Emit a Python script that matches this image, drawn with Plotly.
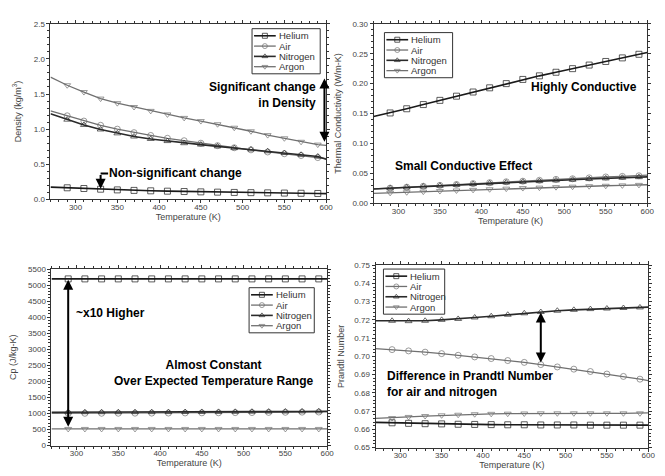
import plotly.graph_objects as go

# ---------------- data ----------------
temps = [270, 290, 310, 330, 350, 370, 390, 410, 430, 450, 470, 490, 510, 530, 550, 570, 590, 600]
gases = ["Helium", "Air", "Nitrogen", "Argon"]

density_helium = [0.175, 0.165, 0.155, 0.145, 0.135, 0.128, 0.122, 0.117, 0.112, 0.107, 0.103, 0.099, 0.096, 0.093, 0.090, 0.087, 0.084, 0.082]
density_air = [1.26, 1.19, 1.115, 1.055, 1.0, 0.95, 0.91, 0.87, 0.835, 0.80, 0.765, 0.735, 0.705, 0.675, 0.65, 0.625, 0.595, 0.58]
density_nitrogen = [1.22, 1.135, 1.06, 0.995, 0.94, 0.895, 0.86, 0.83, 0.80, 0.78, 0.755, 0.73, 0.71, 0.685, 0.66, 0.635, 0.61, 0.57]
density_argon = [1.74, 1.625, 1.528, 1.435, 1.37, 1.315, 1.26, 1.21, 1.16, 1.115, 1.07, 1.02, 0.97, 0.915, 0.87, 0.82, 0.78, 0.77]

cond_helium = [0.145, 0.151, 0.158, 0.165, 0.172, 0.179, 0.186, 0.193, 0.200, 0.207, 0.213, 0.219, 0.225, 0.231, 0.237, 0.243, 0.249, 0.252]
cond_air = [0.024, 0.0255, 0.027, 0.0285, 0.030, 0.0315, 0.033, 0.0345, 0.036, 0.037, 0.0385, 0.040, 0.041, 0.0425, 0.044, 0.045, 0.046, 0.047]
cond_nitrogen = [0.0238, 0.0252, 0.0266, 0.028, 0.0294, 0.0308, 0.0321, 0.0334, 0.0347, 0.0359, 0.0371, 0.0383, 0.0394, 0.0405, 0.0416, 0.0427, 0.0437, 0.0442]
cond_argon = [0.0165, 0.0175, 0.0185, 0.0195, 0.0205, 0.0215, 0.0225, 0.0235, 0.0245, 0.0255, 0.0262, 0.027, 0.0278, 0.0286, 0.0293, 0.030, 0.0308, 0.031]

cp_helium = [5193] * 18
cp_air = [1005, 1006, 1007, 1008, 1009, 1011, 1013, 1015, 1018, 1021, 1024, 1028, 1031, 1035, 1039, 1043, 1047, 1049]
cp_nitrogen = [1040, 1040, 1041, 1041, 1042, 1043, 1044, 1045, 1047, 1049, 1051, 1053, 1056, 1059, 1062, 1065, 1068, 1070]
cp_argon = [520] * 18

pr_helium = [0.6638, 0.6636, 0.6633, 0.6631, 0.6630, 0.6628, 0.6627, 0.6626, 0.6625, 0.6625, 0.6624, 0.6624, 0.6624, 0.6623, 0.6623, 0.6623, 0.6623, 0.6623]
pr_air = [0.7042, 0.7037, 0.7030, 0.7023, 0.7015, 0.7006, 0.6997, 0.6988, 0.6977, 0.6967, 0.6955, 0.6942, 0.6930, 0.6917, 0.6903, 0.6890, 0.6875, 0.6867]
pr_nitrogen = [0.7195, 0.7195, 0.7193, 0.7195, 0.7200, 0.7205, 0.7213, 0.7220, 0.7228, 0.7236, 0.7243, 0.7250, 0.7255, 0.7259, 0.7262, 0.7265, 0.7268, 0.7270]
pr_argon = [0.6660, 0.6662, 0.6668, 0.6673, 0.6677, 0.6680, 0.6683, 0.6685, 0.6686, 0.6687, 0.6688, 0.6688, 0.6688, 0.6688, 0.6688, 0.6688, 0.6688, 0.6690]

panels = [
    [density_helium, density_air, density_nitrogen, density_argon],
    [cond_helium, cond_air, cond_nitrogen, cond_argon],
    [cp_helium, cp_air, cp_nitrogen, cp_argon],
    [pr_helium, pr_air, pr_nitrogen, pr_argon],
]

# ---------------- style ----------------
FONT = "Liberation Sans, Arial, sans-serif"
W, H = 665, 476
symbols = ["square-open", "circle-open", "triangle-up-open", "triangle-down-open"]
colors = ["#1a1a1a", "#707070", "#2a2a2a", "#707070"]
widths = [1.6, 1.3, 1.6, 1.3]
msize = [0] + [6] * 16 + [0]

fig = go.Figure()

axes_ids = [("x", "y"), ("x2", "y2"), ("x3", "y3"), ("x4", "y4")]
for p, (data, (xa, ya)) in enumerate(zip(panels, axes_ids)):
    for g, (name, vals) in enumerate(zip(gases, data)):
        fig.add_trace(go.Scatter(
            x=temps, y=vals, name=name, mode="lines+markers",
            xaxis=xa, yaxis=ya, showlegend=False,
            line=dict(color=colors[g], width=widths[g]),
            marker=dict(symbol=symbols[g], size=msize, color=colors[g],
                        line=dict(width=1.0, color=colors[g])),
        ))

def px_dom_x(a, b):
    return [a / W, b / W]

def px_dom_y(top, bottom):
    return [1 - bottom / H, 1 - top / H]

TITLE_FONT = dict(family=FONT, size=9, color="#444")
common_axis = dict(
    showline=True, linecolor="#333", linewidth=1, mirror="allticks",
    ticks="outside", ticklen=3, tickcolor="#333", showgrid=False, zeroline=False,
    tickfont=dict(family=FONT, size=8, color="#444"),
    minor=dict(ticks="outside", ticklen=2, tickcolor="#333"),
)
xcommon = dict(common_axis, range=[270, 600], dtick=50, tick0=300, ticklabelstandoff=-3,
               title=dict(text="Temperature (K)", font=TITLE_FONT, standoff=0))

fig.update_layout(
    width=W, height=H, margin=dict(l=0, r=0, t=0, b=0),
    paper_bgcolor="white", plot_bgcolor="rgba(0,0,0,0)", showlegend=False,
    xaxis=dict(xcommon, domain=px_dom_x(42, 321), anchor="y"),
    yaxis=dict(common_axis, domain=px_dom_y(12, 191), anchor="x", range=[0, 2.5], dtick=0.5, tickformat=".1f",
               title=dict(text="Density (kg/m<sup>3</sup>)", font=TITLE_FONT, standoff=10)),
    xaxis2=dict(xcommon, domain=px_dom_x(369, 646), anchor="y2"),
    yaxis2=dict(common_axis, domain=px_dom_y(12, 195), anchor="x2", range=[0, 0.30], dtick=0.05, tickformat=".2f",
                title=dict(text="Thermal Conductivity (W/m-K)", font=TITLE_FONT, standoff=9)),
    xaxis3=dict(xcommon, domain=px_dom_x(43, 322), anchor="y3"),
    yaxis3=dict(common_axis, domain=px_dom_y(262, 442), anchor="x3", range=[0, 5500], dtick=500, tickformat="d",
                title=dict(text="Cp (J/kg-K)", font=TITLE_FONT, standoff=14)),
    xaxis4=dict(xcommon, domain=px_dom_x(371, 647), anchor="y4"),
    yaxis4=dict(common_axis, domain=px_dom_y(258, 444), anchor="x4", range=[0.65, 0.75], dtick=0.01, tickformat=".2f",
                title=dict(text="Prandtl Number", font=TITLE_FONT, standoff=8)),
    # overlay pixel axes for the compact legends
    xaxis5=dict(domain=[0, 1], range=[0, W], visible=False, fixedrange=True, anchor="y5"),
    yaxis5=dict(domain=[0, 1], range=[H, 0], visible=False, fixedrange=True, anchor="x5"),
)

# ---------------- compact legends (Origin style) ----------------
legend_boxes = [(246, 17, 315, 63), (380, 21, 449, 67), (243, 281, 309, 327), (379, 262, 441, 308)]
for (bx0, by0, bx1, by1) in legend_boxes:
    fig.add_shape(type="rect", xref="x5", yref="y5", x0=bx0, y0=by0, x1=bx1, y1=by1,
                  line=dict(color="#333", width=1), fillcolor="rgba(255,255,255,0)", layer="above")
    row_h = (by1 - by0 - 4) / 4
    for g, name in enumerate(gases):
        yy = by0 + 2 + row_h * (g + 0.5)
        fig.add_trace(go.Scatter(
            x=[bx0 + 2, bx0 + 13, bx0 + 24], y=[yy, yy, yy], mode="lines+markers",
            xaxis="x5", yaxis="y5", showlegend=False, hoverinfo="skip",
            line=dict(color=colors[g], width=widths[g]),
            marker=dict(symbol=symbols[g], size=[0, 5, 0], color=colors[g],
                        line=dict(width=1.0, color=colors[g])),
        ))
        fig.add_annotation(xref="x5", yref="y5", x=bx0 + 25, y=yy, text=name, showarrow=False,
                           xanchor="left", yanchor="middle",
                           font=dict(family=FONT, size=9.5, color="#333"))

TXT = dict(family=FONT, size=12, color="black")

def text(xref, yref, x, y, s, xanchor="left", align="left"):
    fig.add_annotation(xref=xref, yref=yref, x=x, y=y, text=s, showarrow=False,
                       font=TXT, xanchor=xanchor, align=align)

def arrow(xref, yref, x, y0, y1, both=True):
    fig.add_annotation(xref=xref, yref=yref, x=x, y=y1, ax=x, ay=y0, axref=xref, ayref=yref,
                       text="", showarrow=True, arrowhead=2, arrowsize=1, arrowwidth=2,
                       arrowcolor="black", arrowside="end+start" if both else "end")

# Panel 1
text("x", "y", 590, 1.49, "<b>Significant change<br>in Density</b>", xanchor="right", align="right")
arrow("x", "y", 598, 0.80, 1.72)
text("x", "y", 338, 0.37, "<b>Non-significant change</b>")
fig.add_shape(type="line", xref="x", yref="y", x0=330, x1=339, y0=0.37, y1=0.37,
              line=dict(color="black", width=2))
arrow("x", "y", 330, 0.37, 0.15, both=False)

# Panel 2
text("x2", "y2", 457, 0.195, "<b>Highly Conductive</b>")
text("x2", "y2", 294, 0.062, "<b>Small Conductive Effect</b>")

# Panel 3
text("x3", "y3", 297, 4120, "<b>~x10 Higher</b>")
text("x3", "y3", 465, 2260, "<b>Almost Constant<br>Over Expected Temperature Range</b>", xanchor="center", align="center")
arrow("x3", "y3", 290, 540, 5170)

# Panel 4
text("x4", "y4", 281, 0.6849, "<b>Difference in Prandtl Number<br>for air and nitrogen</b>")
arrow("x4", "y4", 470, 0.6958, 0.7240)

fig.write_html("out.html")
